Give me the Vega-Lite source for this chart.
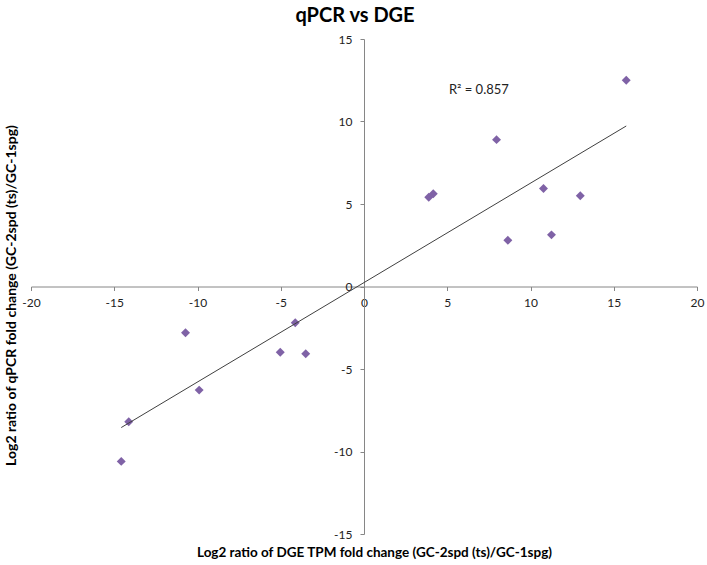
{
  "$schema": "https://vega.github.io/schema/vega-lite/v6.json",
  "width": 666,
  "height": 495,
  "autosize": "none",
  "padding": {"left": 31, "top": 39, "right": 10, "bottom": 31},
  "datasets": {
    "points": [
      {"dge": 15.75, "qpcr": 12.5},
      {"dge": 7.96, "qpcr": 8.9},
      {"dge": 3.89, "qpcr": 5.41},
      {"dge": 4.16, "qpcr": 5.62},
      {"dge": 10.78, "qpcr": 5.94},
      {"dge": 12.99, "qpcr": 5.5},
      {"dge": 8.64, "qpcr": 2.8},
      {"dge": 11.26, "qpcr": 3.13},
      {"dge": -10.72, "qpcr": -2.8},
      {"dge": -4.13, "qpcr": -2.2},
      {"dge": -5.03, "qpcr": -3.98},
      {"dge": -3.5, "qpcr": -4.08},
      {"dge": -9.9, "qpcr": -6.28},
      {"dge": -14.13, "qpcr": -8.2},
      {"dge": -14.58, "qpcr": -10.6}
    ],
    "note": [
      {"dge": 6.9, "qpcr": 11.9, "label": "R² = 0.857"}
    ]
  },
  "title": {
    "text": "qPCR vs DGE",
    "font": "Lato",
    "fontSize": 20,
    "fontWeight": "bold",
    "color": "#000000",
    "anchor": "middle",
    "frame": "group",
    "dx": -9,
    "offset": 7
  },
  "config": {
    "view": {"stroke": null},
    "font": "Lato",
    "axis": {"grid": false, "labelFlush": false, "labelOverlap": false}
  },
  "layer": [
    {
      "data": {"name": "points"},
      "mark": {"type": "point", "shape": "diamond", "filled": true, "size": 80, "color": "#7F62A6", "opacity": 1},
      "encoding": {
        "x": {
          "field": "dge", "type": "quantitative",
          "scale": {"domain": [-20, 20], "nice": false, "zero": false},
          "axis": {
            "title": "Log2 ratio of DGE TPM fold change (GC-2spd (ts)/GC-1spg)",
            "values": [-20, -15, -10, -5, 0, 5, 10, 15, 20],
            "labelExpr": "'' + datum.value",
            "offset": -247.5,
            "domainColor": "#868686",
            "tickColor": "#868686",
            "tickSize": 4,
            "labelFontSize": 12,
            "labelColor": "#222222",
            "labelPadding": 7,
            "titleFontSize": 13.5,
            "titleFontWeight": "bold",
            "titleColor": "#000000",
            "titleX": 343,
            "titleY": 265.5,
            "titleBaseline": "middle",
            "titleAlign": "center"
          }
        },
        "y": {
          "field": "qpcr", "type": "quantitative",
          "scale": {"domain": [-15, 15], "nice": false, "zero": false},
          "axis": {
            "title": "Log2 ratio of qPCR fold change (GC-2spd (ts)/GC-1spg)",
            "values": [-15, -10, -5, 0, 5, 10, 15],
            "labelExpr": "'' + datum.value",
            "offset": -333,
            "domainColor": "#868686",
            "tickColor": "#868686",
            "tickSize": 4,
            "labelFontSize": 12,
            "labelColor": "#222222",
            "labelPadding": 8,
            "titleFontSize": 14,
            "titleFontWeight": "bold",
            "titleColor": "#000000",
            "titleX": -353,
            "titleY": 256,
            "titleAngle": -90,
            "titleBaseline": "middle",
            "titleAlign": "center"
          }
        }
      }
    },
    {
      "data": {"name": "points"},
      "transform": [{"regression": "qpcr", "on": "dge"}],
      "mark": {"type": "line", "color": "#404040", "strokeWidth": 1},
      "encoding": {
        "x": {"field": "dge", "type": "quantitative"},
        "y": {"field": "qpcr", "type": "quantitative"}
      }
    },
    {
      "data": {"name": "note"},
      "mark": {"type": "text", "font": "Lato", "fontSize": 13, "color": "#222222", "align": "center", "baseline": "middle"},
      "encoding": {
        "x": {"field": "dge", "type": "quantitative"},
        "y": {"field": "qpcr", "type": "quantitative"},
        "text": {"field": "label"}
      }
    }
  ]
}
